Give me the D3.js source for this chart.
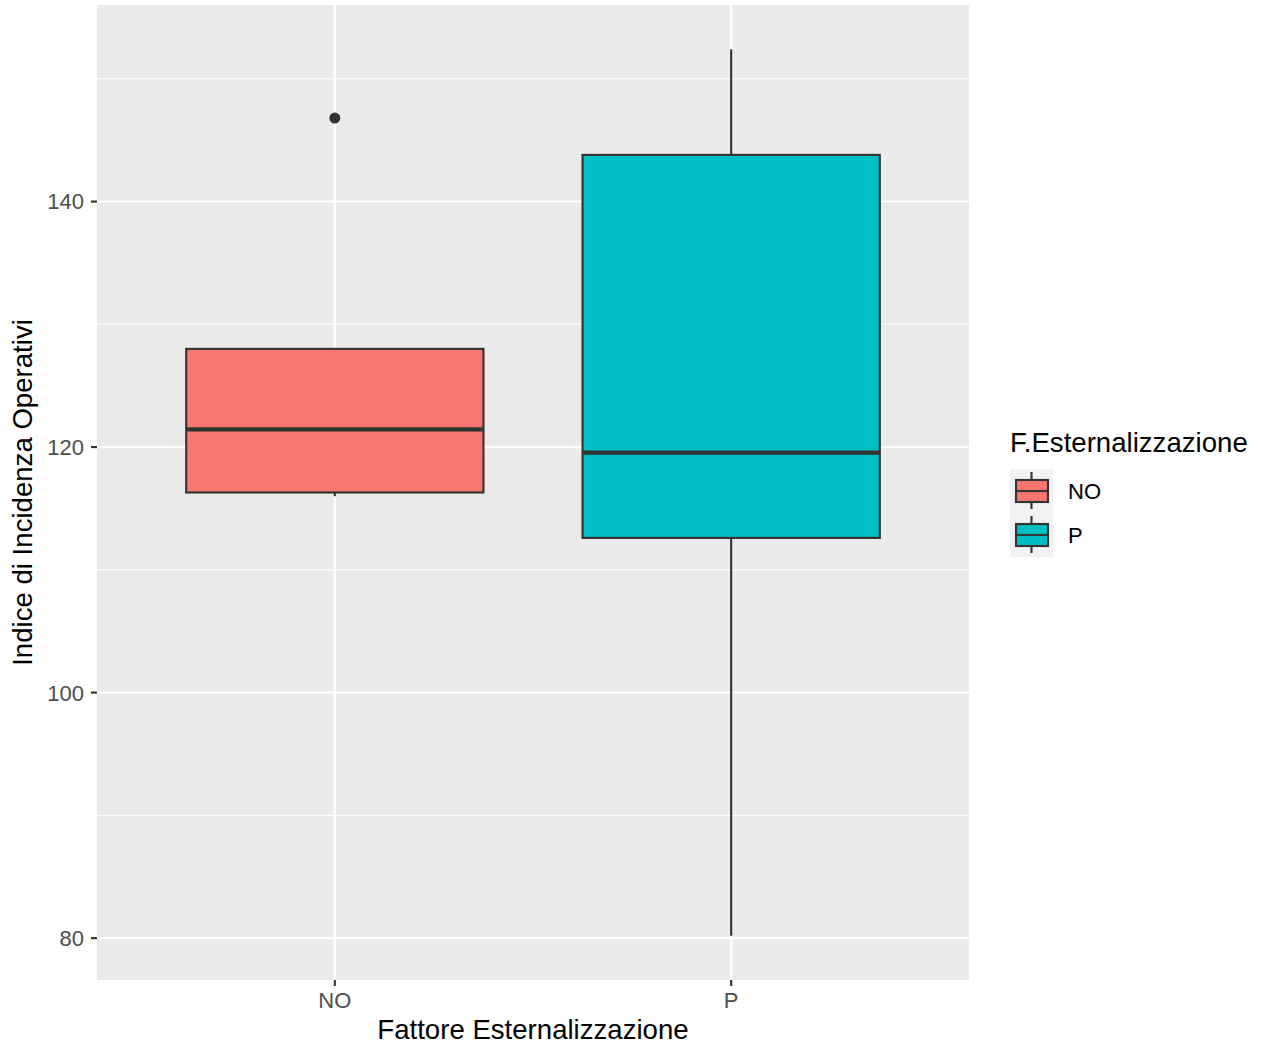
<!DOCTYPE html>
<html><head><meta charset="utf-8">
<script src="https://cdn.jsdelivr.net/npm/d3@7"></script>
<style>body{margin:0;background:#fff;} text{font-family:"Liberation Sans",Arial,Helvetica,sans-serif;}</style>
</head><body>
<svg id="c" width="1261" height="1045"></svg>
<script>
const categories = ["NO", "P"];
const lowerWhisker = [116.0, 80.2];
const q1 = [116.3, 112.6];
const median = [121.45, 119.55];
const q3 = [128.0, 143.8];
const upperWhisker = [128.0, 152.4];
const outliers = [[146.8], []];
const colors = ["#F8766D", "#00BFC4"];
const yTicks = [80, 100, 120, 140];
const yMinor = [90, 110, 130, 150];
const legendTitle = "F.Esternalizzazione";
const xTitle = "Fattore Esternalizzazione";
const yTitle = "Indice di Incidenza Operativi";

const svg = d3.select("#c");
const P = {l: 97, r: 969, t: 5, b: 980};
const dMin = 80.2, dMax = 152.4, ex = (dMax - dMin) * 0.05;
const y = d3.scaleLinear().domain([dMin - ex, dMax + ex]).range([P.b, P.t]);
const x = d3.scaleLinear().domain([0.4, categories.length + 0.6]).range([P.l, P.r]);
const bw = 0.75;
const tickFs = 22, titleFs = 27.6;

svg.append("rect").attr("x", P.l).attr("y", P.t).attr("width", P.r - P.l).attr("height", P.b - P.t).attr("fill", "#EBEBEB");
const g = svg.append("g");
g.selectAll(".minor").data(yMinor).join("line").attr("x1", P.l).attr("x2", P.r)
  .attr("y1", d => y(d)).attr("y2", d => y(d)).attr("stroke", "#fff").attr("stroke-width", 1.07);
g.selectAll(".major").data(yTicks).join("line").attr("x1", P.l).attr("x2", P.r)
  .attr("y1", d => y(d)).attr("y2", d => y(d)).attr("stroke", "#fff").attr("stroke-width", 2.13);
g.selectAll(".vmaj").data(categories).join("line").attr("y1", P.t).attr("y2", P.b)
  .attr("x1", (d, i) => x(i + 1)).attr("x2", (d, i) => x(i + 1)).attr("stroke", "#fff").attr("stroke-width", 2.13);

const dark = "#333333";
categories.forEach((c, i) => {
  const cx = x(i + 1), x0 = x(i + 1 - bw / 2), x1 = x(i + 1 + bw / 2);
  g.append("line").attr("x1", cx).attr("x2", cx).attr("y1", y(upperWhisker[i])).attr("y2", y(q3[i])).attr("stroke", dark).attr("stroke-width", 2.13);
  g.append("line").attr("x1", cx).attr("x2", cx).attr("y1", y(q1[i])).attr("y2", y(lowerWhisker[i])).attr("stroke", dark).attr("stroke-width", 2.13);
  g.append("rect").attr("x", x0).attr("y", y(q3[i])).attr("width", x1 - x0).attr("height", y(q1[i]) - y(q3[i]))
    .attr("fill", colors[i]).attr("stroke", dark).attr("stroke-width", 2.13);
  g.append("line").attr("x1", x0).attr("x2", x1).attr("y1", y(median[i])).attr("y2", y(median[i])).attr("stroke", dark).attr("stroke-width", 4.26);
  outliers[i].forEach(o => g.append("circle").attr("cx", cx).attr("cy", y(o)).attr("r", 5.5).attr("fill", dark));
});

// axes
const tickCol = "#333333", labCol = "#4D4D4D";
yTicks.forEach(t => {
  svg.append("line").attr("x1", P.l - 6).attr("x2", P.l).attr("y1", y(t)).attr("y2", y(t)).attr("stroke", tickCol).attr("stroke-width", 2.13);
  svg.append("text").attr("x", P.l - 13).attr("y", y(t)).attr("dy", "0.36em").attr("text-anchor", "end")
    .attr("font-size", tickFs).attr("fill", labCol).text(t);
});
categories.forEach((c, i) => {
  svg.append("line").attr("x1", x(i + 1)).attr("x2", x(i + 1)).attr("y1", P.b).attr("y2", P.b + 6).attr("stroke", tickCol).attr("stroke-width", 2.13);
  svg.append("text").attr("x", x(i + 1)).attr("y", 1008).attr("text-anchor", "middle")
    .attr("font-size", tickFs).attr("fill", labCol).text(c);
});
svg.append("text").attr("x", (P.l + P.r) / 2).attr("y", 1038.5).attr("text-anchor", "middle").attr("font-size", titleFs).attr("fill", "#000").text(xTitle);
svg.append("text").attr("transform", `translate(32,${(P.t + P.b) / 2}) rotate(-90)`).attr("text-anchor", "middle").attr("font-size", titleFs).attr("fill", "#000").text(yTitle);

// legend
const L = svg.append("g");
L.append("text").attr("x", 1010).attr("y", 452).attr("font-size", titleFs).attr("fill", "#000").text(legendTitle);
categories.forEach((c, i) => {
  const ky = 469 + i * 44;
  L.append("rect").attr("x", 1010).attr("y", ky).attr("width", 43).attr("height", 44).attr("fill", "#F2F2F2");
  L.append("line").attr("x1", 1031.5).attr("x2", 1031.5).attr("y1", ky + 3).attr("y2", ky + 40).attr("stroke", dark).attr("stroke-width", 2.13);
  L.append("rect").attr("x", 1016).attr("y", ky + 11).attr("width", 32).attr("height", 22).attr("fill", colors[i]).attr("stroke", dark).attr("stroke-width", 2.13);
  L.append("line").attr("x1", 1016).attr("x2", 1048).attr("y1", ky + 22).attr("y2", ky + 22).attr("stroke", dark).attr("stroke-width", 2.13);
  L.append("text").attr("x", 1068).attr("y", ky + 22).attr("dy", "0.36em").attr("font-size", tickFs).attr("fill", "#000").text(c);
});
</script>
</body></html>
